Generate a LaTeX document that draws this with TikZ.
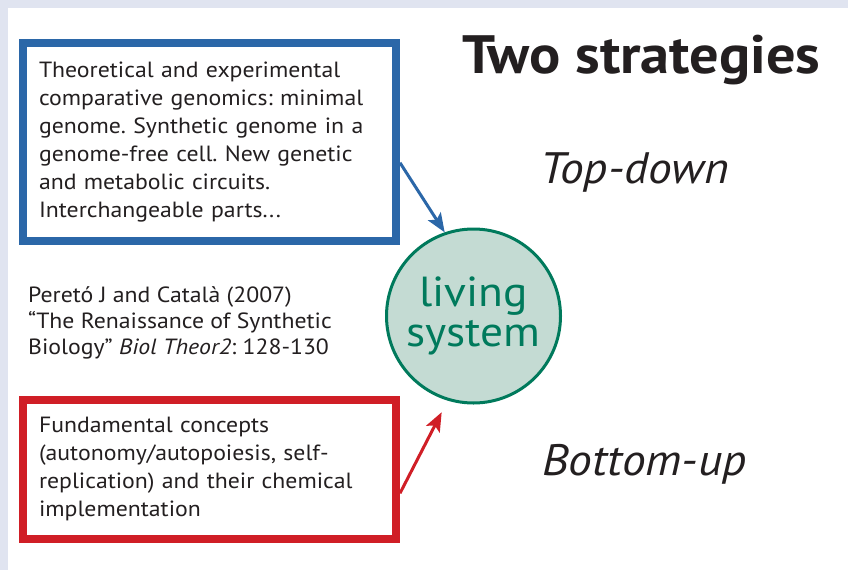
\documentclass[tikz,border=0pt]{standalone}
\usepackage{fontspec}
\setmainfont{PT Sans}[FakeStretch=1.08]
\usetikzlibrary{positioning}
\usetikzlibrary{arrows.meta}
\definecolor{frameblue}{RGB}{224,228,240}
\definecolor{boxblue}{RGB}{43,103,168}
\definecolor{boxred}{RGB}{208,30,38}
\definecolor{cellgreen}{RGB}{0,122,92}
\definecolor{cellfill}{RGB}{196,219,211}
\definecolor{inktext}{RGB}{35,31,32}
\frenchspacing
\begin{document}
\begin{tikzpicture}[x=1pt, y=-1pt,
                    every node/.style={text=inktext},
                    strategy/.style={draw, line width=8pt, align=left, text width=341pt,
                                     inner xsep=16pt, inner ysep=0pt, minimum width=373pt,
                                     font=\fontsize{22}{28}\selectfont, anchor=north west},
                    plain/.style={inner sep=0pt, anchor=base west},
                    link/.style={line width=3pt, -{Stealth[length=19pt,width=15pt,inset=4pt]}}]
    \fill[frameblue] (0,0) rectangle (848,570);
    \fill[white] (8,8) rectangle (848,570);
    \useasboundingbox (0,0) rectangle (848,570);
    \node[strategy, draw=boxblue, minimum height=198.5pt] (topbox) at (19,38.5)
        {Theoretical and experimental\\comparative genomics: minimal\\genome. Synthetic genome in a\\genome-free cell. New genetic\\and metabolic circuits.\\Interchangeable parts...};
    \node[strategy, draw=boxred, minimum height=139.5pt] (bottombox) at (19,395.5)
        {Fundamental concepts\\(autonomy/autopoiesis, self-\\replication) and their chemical\\implementation};
    \node[circle, draw=cellgreen, fill=cellfill, line width=3pt, minimum size=174pt,
          text=cellgreen, align=center, font=\fontsize{42}{40}\selectfont] (living) at (473.5,316)
        {living\\system};
    \node[plain, font=\fontsize{54}{60}\selectfont\bfseries] (title) at (462,73) {Two strategies};
    \node[plain, font=\fontsize{44}{50}\selectfont\itshape] (topdown) at (540,183) {Top-down};
    \node[plain, font=\fontsize{44}{50}\selectfont\itshape] (bottomup) at (542,475) {Bottom-up};
    \node[inner sep=0pt, anchor=north west, align=left, font=\fontsize{22}{26}\selectfont] (source) at (28,286)
        {Peretó J and Català (2007)\\“The Renaissance of Synthetic\\Biology” \textit{Biol Theor2}: 128-130};
    \draw[link, boxblue] ([yshift=-21pt]topbox.east) -- (living.109);
    \draw[link, boxred, shorten >=13pt] ([yshift=-24pt]bottombox.east) -- (living.253);
\end{tikzpicture}
\end{document}
